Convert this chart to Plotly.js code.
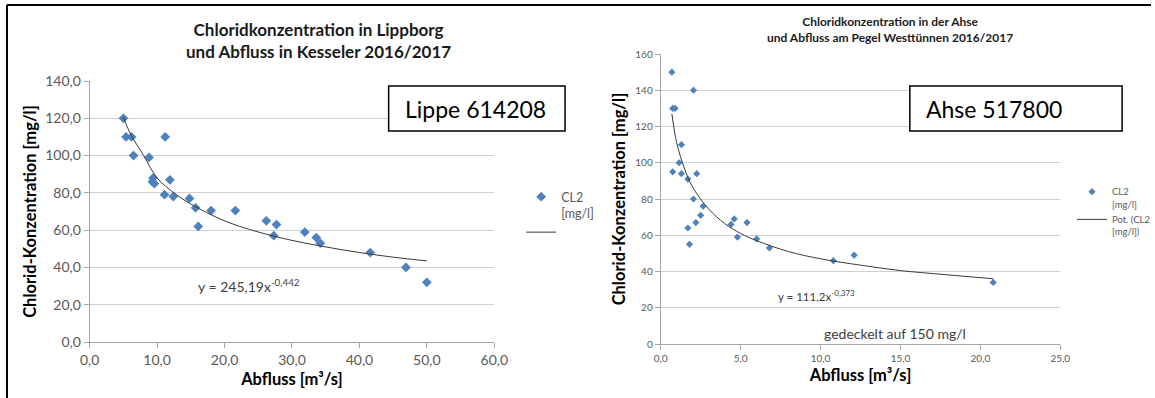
<!DOCTYPE html>
<html>
<head>
<meta charset="utf-8">
<script src="https://cdn.plot.ly/plotly-3.0.1.min.js"></script>
<style>
html,body{margin:0;padding:0;background:#fff;}
#chart{width:1155px;height:398px;}
</style>
</head>
<body>
<div id="chart"></div>
<script>
// ---- Left chart: Lippe 614208 ----
const lippeQ = [5.0, 5.4, 6.2, 6.5, 8.8, 11.2, 9.4, 9.3, 9.6, 11.9, 11.1, 12.4, 14.8, 15.7, 16.1, 18.0, 21.6, 26.2, 27.7, 27.3, 31.9, 33.6, 34.2, 41.6, 46.9, 50.0];
const lippeCl = [120, 110, 110, 100, 99, 110, 88, 86, 85, 87, 79, 78, 77, 72, 62, 70.5, 70.5, 65, 63, 57, 59, 56, 53, 48, 40, 32];
const lippeTrendQ = [5, 6, 8, 10, 12.5, 15, 20, 25, 30, 35, 40, 45, 50];
const lippeTrendCl = [120.5, 112, 100, 88, 80, 74, 65, 59, 54.5, 51, 48, 45.5, 43.5];

// ---- Right chart: Ahse 517800 ----
const ahseQ = [0.7, 2.05, 0.75, 0.9, 1.3, 1.15, 0.75, 1.3, 2.25, 1.7, 2.05, 2.65, 2.5, 2.2, 1.7, 1.8, 4.4, 4.6, 5.4, 4.8, 6.0, 6.8, 10.8, 12.1, 20.8];
const ahseCl = [150, 140, 130, 130, 110, 100, 95, 94, 94, 91, 80, 76, 71, 67, 64, 55, 66, 69, 67, 59, 58, 53, 46, 49, 34];
const ahseTrendQ = [0.7, 1, 1.5, 2, 3, 4, 5, 6, 8, 10, 12.5, 15, 17.5, 20.8];
const ahseTrendCl = [127, 111, 96.5, 86.5, 74.5, 66.5, 61, 57, 51, 47, 43.5, 40.5, 38.5, 36];

// ---- Texts ----
const leftTitle = "Chloridkonzentration in Lippborg<br>und Abfluss in Kesseler 2016/2017";
const rightTitle = "Chloridkonzentration in der Ahse<br>und Abfluss am Pegel Westtünnen 2016/2017";
const yTitle = "Chlorid-Konzentration [mg/l]";
const xTitle = "Abfluss [m³/s]";
const leftEq = "y = 245,19x<sup>-0,442</sup>";
const rightEq = "y = 111,2x<sup>-0,373</sup>";
const capNote = "gedeckelt auf 150 mg/l";
const leftLabel = "Lippe 614208";
const rightLabel = "Ahse 517800";

const W = 1155, H = 398;
const px = v => v / W;
const py = v => 1 - v / H;

const FONT = "Lato, 'Open Sans', sans-serif";
const BLUE = "#4f81bd";
const GRID = "#d0d0d0";
const AXIS = "#a6a6a6";
const TREND = "#3a3a3a";

const traces = [
  {x: lippeQ, y: lippeCl, type: 'scatter', mode: 'markers', name: 'CL2<br>[mg/l]',
   marker: {symbol: 'diamond', size: 7.5, color: BLUE}, xaxis: 'x', yaxis: 'y', legend: 'legend'},
  {x: lippeTrendQ, y: lippeTrendCl, type: 'scatter', mode: 'lines', name: ' ',
   line: {color: TREND, width: 1, shape: 'spline'}, xaxis: 'x', yaxis: 'y', legend: 'legend'},
  {x: ahseQ, y: ahseCl, type: 'scatter', mode: 'markers', name: 'CL2<br>[mg/l]',
   marker: {symbol: 'diamond', size: 5.5, color: BLUE}, xaxis: 'x2', yaxis: 'y2', legend: 'legend2'},
  {x: ahseTrendQ, y: ahseTrendCl, type: 'scatter', mode: 'lines', name: 'Pot. (CL2<br>[mg/l])',
   line: {color: TREND, width: 1, shape: 'spline'}, xaxis: 'x2', yaxis: 'y2', legend: 'legend2'}
];

const axisCommon = {
  showgrid: true, gridcolor: GRID, gridwidth: 1,
  showline: true, linecolor: AXIS, linewidth: 1,
  ticks: 'outside', ticklen: 5, tickcolor: AXIS,
  zeroline: false, fixedrange: true
};

const titleFont = {size: 16.5, color: '#000', family: FONT, weight: 'bold'};

const layout = {
  width: W, height: H,
  margin: {l: 0, r: 0, t: 0, b: 0},
  paper_bgcolor: '#fff', plot_bgcolor: '#fff',
  separators: ',.',
  font: {family: FONT, color: '#595959'},
  showlegend: true,
  xaxis: Object.assign({}, axisCommon, {
    domain: [px(90), px(496)], range: [0, 60], dtick: 10, tickformat: '.1f',
    showgrid: false, anchor: 'y',
    tickfont: {size: 14, color: '#595959'},
    title: {text: xTitle, font: titleFont, standoff: 6}
  }),
  yaxis: Object.assign({}, axisCommon, {
    domain: [py(342), py(81)], range: [0, 140], dtick: 20, tickformat: '.1f', anchor: 'x',
    tickfont: {size: 14, color: '#595959'},
    title: {text: yTitle, font: titleFont, standoff: 4}
  }),
  xaxis2: Object.assign({}, axisCommon, {
    domain: [px(663), px(1064)], range: [0, 25], dtick: 5, tickformat: '.1f',
    showgrid: false, anchor: 'y2',
    tickfont: {size: 10, color: '#595959'},
    title: {text: xTitle, font: titleFont, standoff: 6}
  }),
  yaxis2: Object.assign({}, axisCommon, {
    domain: [py(344), py(54)], range: [0, 160], dtick: 20, anchor: 'x2',
    tickfont: {size: 10, color: '#595959'},
    title: {text: yTitle, font: titleFont, standoff: 5}
  }),
  legend: {
    x: px(523), y: py(182), xanchor: 'left', yanchor: 'top',
    font: {size: 12.5, color: '#595959', family: FONT}, valign: 'top',
    bgcolor: 'rgba(0,0,0,0)', borderwidth: 0, tracegroupgap: 0
  },
  legend2: {
    x: px(1076), y: py(179), xanchor: 'left', yanchor: 'top',
    font: {size: 9.5, color: '#595959', family: FONT}, valign: 'top',
    bgcolor: 'rgba(0,0,0,0)', borderwidth: 0, tracegroupgap: 0
  },
  shapes: [
    {type: 'line', xref: 'paper', yref: 'paper', x0: px(7), x1: px(7), y0: py(5), y1: 0, line: {color: '#000', width: 2}},
    {type: 'line', xref: 'paper', yref: 'paper', x0: px(7), x1: 1, y0: py(5), y1: py(5), line: {color: '#000', width: 2}},
    {type: 'rect', xref: 'paper', yref: 'paper', x0: px(390), x1: px(567), y0: py(86), y1: py(131), line: {color: '#000', width: 1.5}, fillcolor: '#fff'},
    {type: 'rect', xref: 'paper', yref: 'paper', x0: px(913), x1: px(1126), y0: py(86), y1: py(131), line: {color: '#000', width: 1.5}, fillcolor: '#fff'}
  ],
  annotations: [
    {text: leftTitle, xref: 'paper', yref: 'paper', x: px(320), y: py(40.5), xanchor: 'center', yanchor: 'middle',
     showarrow: false, font: {size: 17, color: '#1a1a1a', family: FONT, weight: 'bold'}},
    {text: rightTitle, xref: 'paper', yref: 'paper', x: px(893), y: py(29), xanchor: 'center', yanchor: 'middle',
     showarrow: false, font: {size: 12, color: '#1a1a1a', family: FONT, weight: 'bold'}},
    {text: leftLabel, xref: 'paper', yref: 'paper', x: px(404), y: py(108.5), xanchor: 'left', yanchor: 'middle',
     showarrow: false, font: {size: 23, color: '#000', family: FONT}},
    {text: rightLabel, xref: 'paper', yref: 'paper', x: px(927), y: py(108.5), xanchor: 'left', yanchor: 'middle',
     showarrow: false, font: {size: 23, color: '#000', family: FONT}},
    {text: leftEq, xref: 'x', yref: 'y', x: 15.8, y: 30.5, xanchor: 'left', yanchor: 'middle',
     showarrow: false, font: {size: 14, color: '#404040', family: FONT}},
    {text: rightEq, xref: 'x2', yref: 'y2', x: 7.2, y: 27, xanchor: 'left', yanchor: 'middle',
     showarrow: false, font: {size: 11.5, color: '#404040', family: FONT}},
    {text: capNote, xref: 'x2', yref: 'y2', x: 10.1, y: 6, xanchor: 'left', yanchor: 'middle',
     showarrow: false, font: {size: 14, color: '#404040', family: FONT}}
  ]
};

Plotly.newPlot('chart', traces, layout, {displayModeBar: false, staticPlot: true});
</script>
</body>
</html>
